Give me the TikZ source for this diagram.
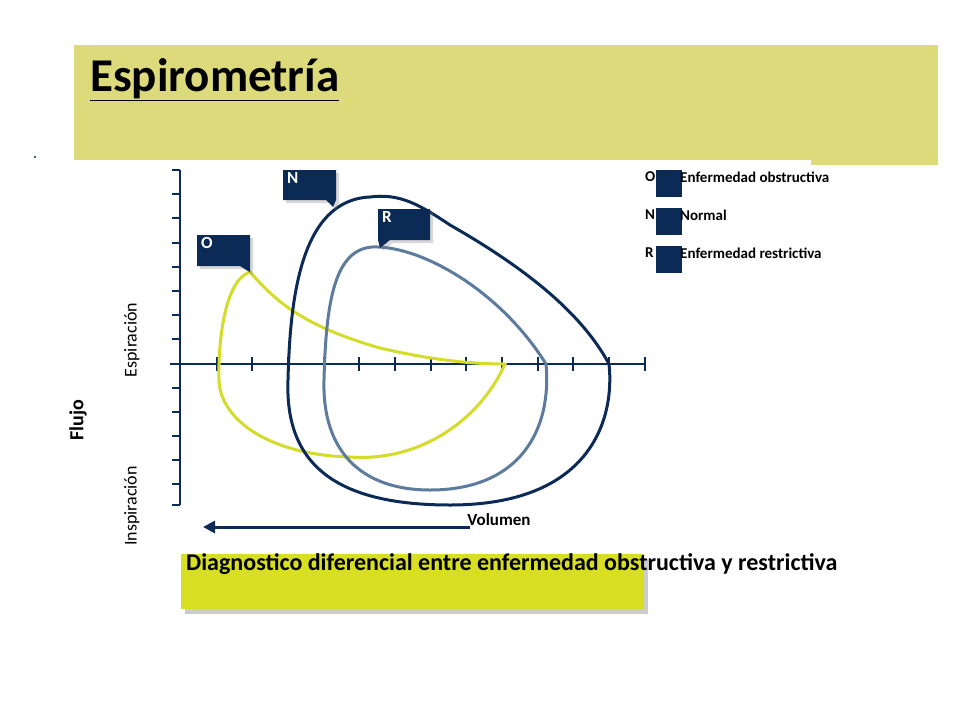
\documentclass[tikz,border=0pt]{standalone}
\usepackage{fontspec}
\setmainfont{Carlito}
\usetikzlibrary{shadows,arrows.meta}
\definecolor{navy}{HTML}{0B2A55}
\definecolor{steel}{HTML}{5D7B9C}
\definecolor{lime}{HTML}{D4DC2A}
\definecolor{band}{HTML}{DCDA7A}
\definecolor{boxy}{HTML}{D8DE22}
\tikzset{
 callout/.style={fill=navy,drop shadow={shadow xshift=3pt,shadow yshift=-3pt,opacity=0.3}},
 lbl/.style={text=white,font=\bfseries\fontsize{17}{19}\selectfont,anchor=north west,inner sep=0pt},
 curve/.style={line width=3pt},
 leg/.style={anchor=west,font=\bfseries\fontsize{18}{20}\selectfont,inner sep=0pt},
 ax/.style={navy,line width=1.2pt},
}
\begin{document}
\begin{tikzpicture}[x=1pt,y=-1pt]
\useasboundingbox (0,0) rectangle (960,720);
\fill[white] (0,0) rectangle (960,720);
% title band
\fill[band] (74,45) rectangle (938,160);
\fill[band] (811,160) rectangle (938,165);
\node[anchor=west,inner sep=0pt,font=\bfseries\fontsize{47}{52}\selectfont] (title) at (90,80) {\underline{Espirometría}};
\fill[navy] (35,157) circle (1.2);
% axes
\draw[ax] (170,364) -- (645,364);
\draw[ax] (180,170) -- (180,505);
\foreach \y [count=\i] in {170,194,218,243,267,291,315,339,388,412,436,460,484,505}{
  \draw[ax] (172,\y) -- (180,\y);}
\foreach \x in {217,252,288,324,359,395,431,466,502,538,573,609,645}{
  \draw[ax] (\x,357) -- (\x,371);}
% curves
\draw[curve,lime] (250,272) .. controls (275,300) and (300,325) .. (380,348)
  .. controls (440,362) and (480,364) .. (505,364)
  .. controls (480,420) and (420,462) .. (350,457)
  .. controls (270,455) and (220,420) .. (219,380)
  .. controls (218,340) and (225,280) .. (250,272) -- cycle;
\draw[curve,navy] (370,197) .. controls (400,193) and (420,205) .. (450,225)
  .. controls (520,265) and (580,310) .. (609,364)
  .. controls (615,420) and (590,505) .. (450,505)
  .. controls (330,505) and (285,460) .. (288,380)
  .. controls (290,300) and (300,200) .. (370,197) -- cycle;
\draw[curve,steel] (372,247) .. controls (420,245) and (500,290) .. (546,364)
  .. controls (552,430) and (520,490) .. (430,490)
  .. controls (360,490) and (322,450) .. (324,380)
  .. controls (326,300) and (335,250) .. (372,247) -- cycle;
% callouts
\fill[callout] (283,170) -- (336,170) -- (336,200) -- (333,207) -- (326,200) -- (283,200) -- cycle;
\node[lbl] (nlab) at (287,172) {N};
\fill[callout] (378,209) -- (430,209) -- (430,240) -- (390,240) -- (380,248) -- (378,240) -- cycle;
\node[lbl] (rlab) at (382,211) {R};
\fill[callout] (197,235) -- (250,235) -- (250,272) -- (240,266) -- (197,266) -- cycle;
\node[lbl] (olab) at (201,237) {O};
% legend
\foreach \l/\t/\y in {O/Enfermedad obstructiva/177,N/Normal/215,R/Enfermedad restrictiva/253}{
  \node[leg,font=\bfseries\fontsize{15}{17}\selectfont] at (645,\y) {\l};
  \fill[navy] (656,\y-7) rectangle (682,\y+20);
  \node[leg,font=\bfseries\fontsize{15}{17}\selectfont] at (680,\y) {\t};
}
% labels
\node[rotate=90,font=\bfseries\fontsize{20}{22}\selectfont] (flujo) at (78,420) {Flujo};
\node[rotate=90,font=\fontsize{18}{20}\selectfont] (esp) at (132,340) {Espiración};
\node[rotate=90,font=\fontsize{18}{20}\selectfont] (insp) at (132,506) {Inspiración};
\node[font=\bfseries\fontsize{17}{19}\selectfont] (vol) at (499,520) {Volumen};
\coordinate (a1) at (470,527);
\coordinate (a2) at (203,527);
\draw[navy,line width=3pt,-{Triangle[length=12pt,width=12pt]}] (a1) -- (a2);
% bottom box
\fill[boxy,drop shadow={shadow xshift=4pt,shadow yshift=-5pt,opacity=0.4}] (181,554) rectangle (644,609);
\node[anchor=west,inner sep=0pt,font=\bfseries\fontsize{24}{28}\selectfont] (diag) at (186,564) {Diagnostico diferencial entre enfermedad obstructiva y restrictiva};
\end{tikzpicture}
\end{document}
